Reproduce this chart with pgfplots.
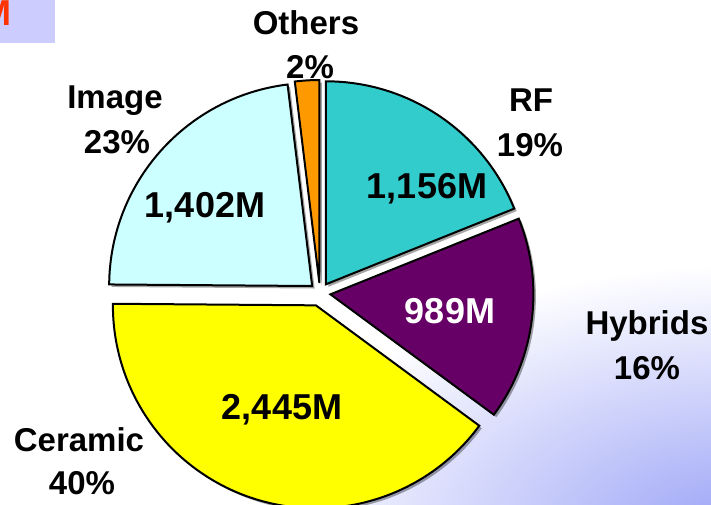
\documentclass[border=0pt]{standalone}
\usepackage{pgfplots}
\usepackage{pgfplotstable}
\pgfplotsset{compat=1.18}
\usepackage{fontspec}
\setmainfont{Liberation Sans}
\definecolor{rfcol}{HTML}{33CCCC}
\definecolor{hycol}{HTML}{660066}
\definecolor{cecol}{HTML}{FFFF00}
\definecolor{imcol}{HTML}{CCFFFF}
\definecolor{otcol}{HTML}{FF9900}
\definecolor{bgblue}{HTML}{9AA2F6}
\definecolor{boxcol}{HTML}{CCCCFF}
\definecolor{mred}{HTML}{FF3300}

% slice values (millions), clockwise from 12 o'clock
\pgfplotstableread{
name value explode
RF 1156 10.5
Hybrids 989 10.5
Ceramic 2445 13
Image 1402 10.5
Others 118 10
}\piedata

\newcommand\outerfont{\fontsize{33bp}{40bp}\selectfont\bfseries}
\newcommand\innerfont{\fontsize{36bp}{42bp}\selectfont\bfseries}

\def\pcx{320}\def\pcy{212}\def\prad{203}
\pgfplotstablegetrowsof{\piedata}
\pgfmathtruncatemacro\nrows{\pgfplotsretval-1}
\gdef\pietotal{0}
\foreach \i in {0,...,\nrows}{%
  \pgfplotstablegetelem{\i}{value}\of\piedata
  \pgfmathparse{\pietotal+\pgfplotsretval}\xdef\pietotal{\pgfmathresult}%
}
\gdef\pieangle{90}
\foreach \i in {0,...,\nrows}{%
  \pgfplotstablegetelem{\i}{value}\of\piedata
  \pgfmathparse{\pieangle-360*(\pgfplotsretval/\pietotal)}%
  \expandafter\xdef\csname pa\i\endcsname{\pieangle}%
  \expandafter\xdef\csname pb\i\endcsname{\pgfmathresult}%
  \xdef\pieangle{\pgfmathresult}%
  \pgfplotstablegetelem{\i}{explode}\of\piedata
  \let\pex\pgfplotsretval
  \pgfmathparse{(\csname pa\i\endcsname+\csname pb\i\endcsname)/2}\let\pmid\pgfmathresult
  \pgfmathparse{\pcx+\pex*cos(\pmid)}\expandafter\xdef\csname vx\i\endcsname{\pgfmathresult}%
  \pgfmathparse{\pcy+\pex*sin(\pmid)}\expandafter\xdef\csname vy\i\endcsname{\pgfmathresult}%
}

\newcommand\pieshadow[1]{%
  \fill[black,opacity=0.35,shift={(2.5bp,-2.5bp)}] (axis cs:\csname vx#1\endcsname,\csname vy#1\endcsname) -- ++(\csname pa#1\endcsname:\prad bp) arc[start angle=\csname pa#1\endcsname, end angle=\csname pb#1\endcsname, radius=\prad bp] -- cycle;}
\newcommand\pieslice[2]{%
  \filldraw[fill=#2,draw=black,line width=2bp,line join=miter] (axis cs:\csname vx#1\endcsname,\csname vy#1\endcsname) -- ++(\csname pa#1\endcsname:\prad bp) arc[start angle=\csname pa#1\endcsname, end angle=\csname pb#1\endcsname, radius=\prad bp] -- cycle;}

\begin{document}
\begin{tikzpicture}
\clip (0,0) rectangle (711bp,505bp);
\begin{axis}[x=1bp,y=1bp,xmin=0,xmax=711,ymin=0,ymax=505,hide axis,clip=false,anchor=south west,at={(0,0)}]
  \fill[white] (axis cs:0,0) rectangle (axis cs:711,505);
  \shade[inner color=bgblue,outer color=white] (axis cs:740,-30) ellipse [x radius=480bp, y radius=270bp];
  \fill[boxcol] (axis cs:0,462) rectangle (axis cs:55,505);
  \node[anchor=base east,font=\innerfont,text=mred,inner sep=0] at (axis cs:12,480) {M};
  \pieshadow{0}\pieshadow{1}\pieshadow{2}\pieshadow{3}\pieshadow{4}
  \pieslice{0}{rfcol}
  \pieslice{1}{hycol}
  \pieslice{2}{cecol}
  \pieslice{3}{imcol}
  \pieslice{4}{otcol}
  % outer labels
  \node[anchor=base,font=\outerfont,inner sep=0] at (axis cs:306,470.2) {Others};
  \node[anchor=base,font=\outerfont,inner sep=0] at (axis cs:310,426.2) {2\%};
  \node[anchor=base,font=\outerfont,inner sep=0] at (axis cs:531,393.2) {RF};
  \node[anchor=base,font=\outerfont,inner sep=0] at (axis cs:530,348.2) {19\%};
  \node[anchor=base,font=\outerfont,inner sep=0] at (axis cs:115,396.2) {Image};
  \node[anchor=base,font=\outerfont,inner sep=0] at (axis cs:117,351.2) {23\%};
  \node[anchor=base,font=\outerfont,inner sep=0] at (axis cs:647,170.2) {Hybrids};
  \node[anchor=base,font=\outerfont,inner sep=0] at (axis cs:647,125.2) {16\%};
  \node[anchor=base,font=\outerfont,inner sep=0] at (axis cs:79,53.2) {Ceramic};
  \node[anchor=base,font=\outerfont,inner sep=0] at (axis cs:82,10.2) {40\%};
  % inner labels
  \node[anchor=base,font=\innerfont,inner sep=0] at (axis cs:205,287.1) {1,402M};
  \node[anchor=base,font=\innerfont,inner sep=0] at (axis cs:427,306.1) {1,156M};
  \node[anchor=base,font=\innerfont,inner sep=0,text=white] at (axis cs:450,181.1) {989M};
  \node[anchor=base,font=\innerfont,inner sep=0] at (axis cs:282,85.1) {2,445M};
\end{axis}
\end{tikzpicture}
\end{document}
